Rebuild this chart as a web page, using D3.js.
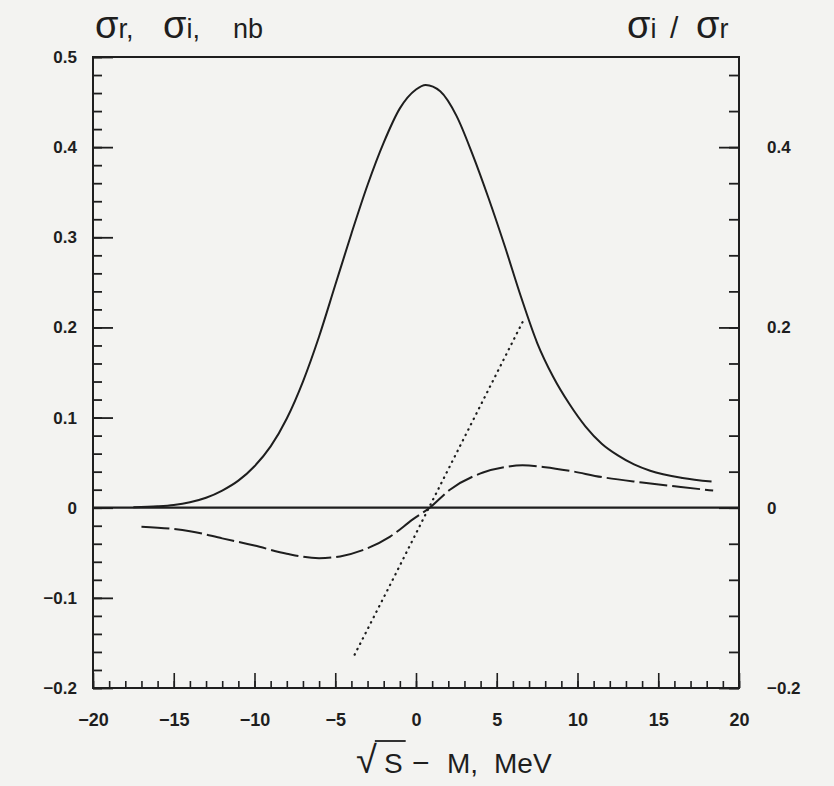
<!DOCTYPE html>
<html><head><meta charset="utf-8">
<script src="https://cdn.jsdelivr.net/npm/d3@7"></script>
<style>
body{margin:0;background:#f3f3f1}
svg{display:block}
</style>
</head><body>
<svg id="chart" width="834" height="786"></svg>
<script>
// ---- data ----
// sigma_r (solid), nb
const sigmaRX = [-17.5,-16,-15,-14,-13,-12,-11,-10,-9,-8,-7,-6,-5,-4,-3,-2,-1,0,0.6,1.5,2.5,3.5,4.5,5.5,6.5,7.5,8.5,9.5,10.5,11.5,12.5,13.5,14.5,16.5,18.3];
const sigmaRY = [0.0005,0.0015,0.003,0.006,0.011,0.019,0.030,0.046,0.068,0.099,0.140,0.190,0.247,0.304,0.358,0.405,0.443,0.464,0.469,0.462,0.435,0.392,0.343,0.290,0.234,0.183,0.145,0.115,0.090,0.071,0.058,0.048,0.041,0.033,0.029];
// sigma_i (dashed), nb
const sigmaIX = [-17.0,-14.0,-12.0,-10.0,-8.0,-6.0,-4.7,-3.3,-1.6,-0.2,0.85,2.1,4.15,5.5,6.6,8.0,9.5,11.5,14.0,16.4,18.4];
const sigmaIY = [-0.021,-0.026,-0.034,-0.042,-0.051,-0.056,-0.054,-0.047,-0.032,-0.013,0.0,0.020,0.039,0.045,0.047,0.045,0.041,0.034,0.028,0.023,0.019];
// sigma_i / sigma_r (dotted), right axis
const ratioX = [-3.8,-1.5,0.8,3.7,6.6];
const ratioY = [-0.163,-0.082,0.0,0.103,0.206];

const xDomain = [-20, 20];
const yDomain = [-0.2, 0.5];
const xMajorTicks = [-20,-15,-10,-5,0,5,10,15,20];
const xTickLabels = ["\u221220","\u221215","\u221210","\u22125","0","5","10","15","20"];
const yLeftMajorTicks = [-0.2,-0.1,0,0.1,0.2,0.3,0.4,0.5];
const yLeftTickLabels = ["\u22120.2","\u22120.1","0","0.1","0.2","0.3","0.4","0.5"];
const yRightMajorTicks = [-0.2,0,0.2,0.4];
const yRightTickLabels = ["\u22120.2","0","0.2","0.4"];

// ---- layout ----
const L = 93, R = 739, T = 57, B = 688;
const ink = "#1e1e1e";
const svg = d3.select("#chart");
svg.append("rect").attr("width",834).attr("height",786).attr("fill","#f3f3f1");

const x = d3.scaleLinear().domain(xDomain).range([L, R]);
const y = d3.scaleLinear().domain(yDomain).range([B, T]);
const yR = d3.scaleLinear().domain(yDomain).range([B, T]);

const xMinor = d3.range(-20, 21, 1);
const yLeftMinor = d3.range(-10, 26).map(i => +(i*0.02).toFixed(2));
const yRightMinor = d3.range(-5, 13).map(i => +(i*0.04).toFixed(2));

function styleTicks(g, w){
  g.select(".domain").remove();
  g.selectAll("line").attr("stroke", ink).attr("stroke-width", w);
}
// bottom ticks (inward)
svg.append("g").attr("transform",`translate(0,${B})`)
  .call(d3.axisTop(x).tickValues(xMinor).tickSize(7).tickFormat(""))
  .call(g=>styleTicks(g,1.6));
svg.append("g").attr("transform",`translate(0,${B})`)
  .call(d3.axisTop(x).tickValues(xMajorTicks).tickSize(15).tickFormat(""))
  .call(g=>styleTicks(g,1.6));
// left ticks
svg.append("g").attr("transform",`translate(${L},0)`)
  .call(d3.axisRight(y).tickValues(yLeftMinor).tickSize(9).tickFormat(""))
  .call(g=>styleTicks(g,1.8));
svg.append("g").attr("transform",`translate(${L},0)`)
  .call(d3.axisRight(y).tickValues(yLeftMajorTicks).tickSize(20).tickFormat(""))
  .call(g=>styleTicks(g,1.8));
// right ticks
svg.append("g").attr("transform",`translate(${R},0)`)
  .call(d3.axisLeft(yR).tickValues(yRightMinor).tickSize(10).tickFormat(""))
  .call(g=>styleTicks(g,1.8));
svg.append("g").attr("transform",`translate(${R},0)`)
  .call(d3.axisLeft(yR).tickValues(yRightMajorTicks).tickSize(20).tickFormat(""))
  .call(g=>styleTicks(g,1.8));

const labelFont = "'Liberation Sans', Arial, sans-serif";
function styleLabels(size){
  return g => {
    g.select(".domain").remove();
    g.selectAll("text").attr("font-family", labelFont).attr("font-size", size)
      .attr("font-weight","bold").attr("fill", ink);
  };
}
// tick labels
svg.append("g").attr("transform",`translate(0,${B})`)
  .call(d3.axisBottom(x).tickValues(xMajorTicks).tickSize(0).tickPadding(25)
        .tickFormat((d,i)=>xTickLabels[i]))
  .call(styleLabels(18));
svg.append("g").attr("transform",`translate(${L},0)`)
  .call(d3.axisLeft(y).tickValues(yLeftMajorTicks).tickSize(0).tickPadding(16)
        .tickFormat((d,i)=>yLeftTickLabels[i]))
  .call(styleLabels(17));
svg.append("g").attr("transform",`translate(${R},0)`)
  .call(d3.axisRight(yR).tickValues(yRightMajorTicks).tickSize(0).tickPadding(28)
        .tickFormat((d,i)=>yRightTickLabels[i]))
  .call(styleLabels(17));

// frame
svg.append("rect").attr("x",L).attr("y",T).attr("width",R-L).attr("height",B-T)
  .attr("fill","none").attr("stroke",ink).attr("stroke-width",2);
// zero line
svg.append("line").attr("x1",x(xDomain[0])).attr("x2",x(xDomain[1]))
  .attr("y1",y(0)).attr("y2",y(0)).attr("stroke",ink).attr("stroke-width",2.2);

// curves
const line = d3.line().x(d=>x(d[0])).y(d=>y(d[1])).curve(d3.curveMonotoneX);
const lineR = d3.line().x(d=>x(d[0])).y(d=>yR(d[1])).curve(d3.curveLinear);

svg.append("path").datum(sigmaRX.map((v,i)=>[v,sigmaRY[i]]))
  .attr("d",line).attr("fill","none").attr("stroke",ink).attr("stroke-width",2);
svg.append("path").datum(sigmaIX.map((v,i)=>[v,sigmaIY[i]]))
  .attr("d",line).attr("fill","none").attr("stroke",ink).attr("stroke-width",2)
  .attr("stroke-dasharray","28,5");
svg.append("path").datum(ratioX.map((v,i)=>[v,ratioY[i]]))
  .attr("d",lineR).attr("fill","none").attr("stroke",ink).attr("stroke-width",2.2)
  .attr("stroke-linecap","round").attr("stroke-dasharray","0.5,5.5");

// titles
const tFont = "'Liberation Sans', Arial, sans-serif";
function sigmaLabel(xPos, sub, trail){
  const t = svg.append("text").attr("x",xPos).attr("y",38)
    .attr("font-family",tFont).attr("fill",ink);
  t.append("tspan").attr("font-size",38).text("\u03c3");
  t.append("tspan").attr("font-size",27).text(sub + (trail||""));
  return t;
}
sigmaLabel(95,"r",",");
sigmaLabel(163,"i",",");
svg.append("text").attr("x",233).attr("y",38).attr("font-family",tFont)
  .attr("font-size",27).attr("fill",ink).text("nb");
sigmaLabel(627,"i","");
svg.append("text").attr("x",670).attr("y",38).attr("font-family",tFont)
  .attr("font-size",30).attr("fill",ink).text("/");
sigmaLabel(696,"r","");

// x-axis title: sqrt(S) - M, MeV
const xt = svg.append("text").attr("y",773)
  .attr("font-family",tFont).attr("fill",ink).attr("font-size",28);
xt.append("tspan").attr("x",356).attr("font-size",38).text("\u221a");
xt.append("tspan").attr("x",384).text("S");
xt.append("tspan").attr("x",412).attr("font-size",30).text("\u2212");
xt.append("tspan").attr("x",447).text("M,");
xt.append("tspan").attr("x",494).text("MeV");
{
  const n = xt.node();
  const r1 = n.getEndPositionOfChar(0);
  const s1 = n.getEndPositionOfChar(1);
  svg.append("line").attr("x1",r1.x-2).attr("x2",s1.x+3)
    .attr("y1",741).attr("y2",741).attr("stroke",ink).attr("stroke-width",1.8);
}
</script>
</body></html>
